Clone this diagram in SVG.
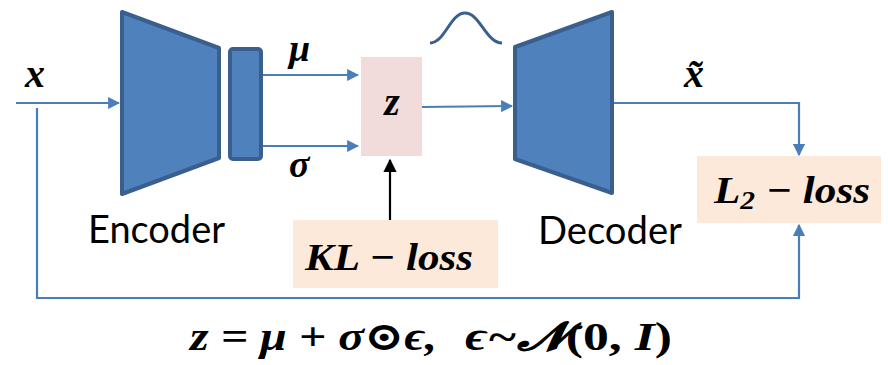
<svg xmlns="http://www.w3.org/2000/svg" width="888" height="365" viewBox="0 0 888 365">
<defs>
<style>
.conn{stroke:#4a7ebb;stroke-width:2.2;fill:none}
.blk{fill:#4f81bd;stroke:#3a5f8e;stroke-width:4;stroke-linejoin:round}
.m{font-family:"Liberation Serif","DejaVu Serif",serif;font-weight:bold;font-style:italic;fill:#000}
.lbl{font-family:Lato,"Open Sans","Liberation Sans",sans-serif;font-size:39px;fill:#000}
.up{font-style:normal}
</style>
<marker id="ab" viewBox="0 0 10 10" refX="9" refY="5" markerWidth="5.5" markerHeight="5.5" orient="auto" markerUnits="strokeWidth"><path d="M0,0L10,5L0,10z" fill="#4a7ebb"/></marker>
<marker id="ak" viewBox="0 0 10 10" refX="9" refY="5" markerWidth="6" markerHeight="6" orient="auto" markerUnits="strokeWidth"><path d="M0,0L10,5L0,10z" fill="#000"/></marker>
</defs>
<rect width="888" height="365" fill="#fff"/>
<g id="connectors">
<path class="conn" d="M16,103H119" marker-end="url(#ab)"/>
<path class="conn" d="M37,108V298H799V225" marker-end="url(#ab)"/>
<path class="conn" d="M263,75H358" marker-end="url(#ab)"/>
<path class="conn" d="M263,146H358" marker-end="url(#ab)"/>
<path class="conn" d="M422,107L512,106" marker-end="url(#ab)"/>
<path class="conn" d="M612,103H799V155" marker-end="url(#ab)"/>
<path d="M390,220V160" stroke="#000" stroke-width="2.2" marker-end="url(#ak)"/>
</g>
<g id="encoder">
<polygon class="blk" points="122,12 219,48 219,158 122,194"/>
<text class="lbl" x="88" y="243" textLength="137" lengthAdjust="spacingAndGlyphs">Encoder</text>
</g>
<g id="latent">
<rect class="blk" x="230" y="49" width="31" height="110" rx="3"/>
</g>
<g id="z">
<rect x="361" y="57" width="61" height="99" fill="#f2dcdb"/>
<text class="m" x="392" y="115" font-size="40" text-anchor="middle">z</text>
</g>
<g id="decoder">
<polygon class="blk" points="515,47 612,12 612,193 515,159"/>
<text class="lbl" x="538" y="244" textLength="144" lengthAdjust="spacingAndGlyphs">Decoder</text>
</g>
<g id="prior">
<path d="M430,43C445,43 450,13 465,13C480,13 486,43 502,43" stroke="#3a5f8e" stroke-width="3" fill="none"/>
</g>
<g id="kl">
<rect x="293" y="220" width="205" height="68" fill="#fce9d9"/>
<text class="m" x="305" y="270" font-size="38" textLength="168" lengthAdjust="spacingAndGlyphs">KL − loss</text>
</g>
<g id="l2">
<rect x="697" y="156" width="184" height="67" fill="#fce9d9"/>
<text class="m" x="714" y="203" font-size="38" textLength="156" lengthAdjust="spacingAndGlyphs">L<tspan font-size="26" dy="6">2</tspan><tspan dy="-6"> − loss</tspan></text>
</g>
<g id="labels">
<text class="m" x="25" y="87" font-size="40">x</text>
<text class="m" x="289" y="61" font-size="38">μ</text>
<text class="m" x="289" y="177" font-size="38">σ</text>
<text class="m" x="684" y="87" font-size="40">x̃</text>
</g>
<g id="formula">
<text class="m" x="190" y="350" font-size="40" textLength="247" lengthAdjust="spacingAndGlyphs">z = μ + σ⊙ϵ,</text>
<text class="m" x="465" y="350" font-size="40" textLength="207" lengthAdjust="spacingAndGlyphs">ϵ~𝓝<tspan class="up">(0, </tspan>I<tspan class="up">)</tspan></text>
</g>
</svg>
